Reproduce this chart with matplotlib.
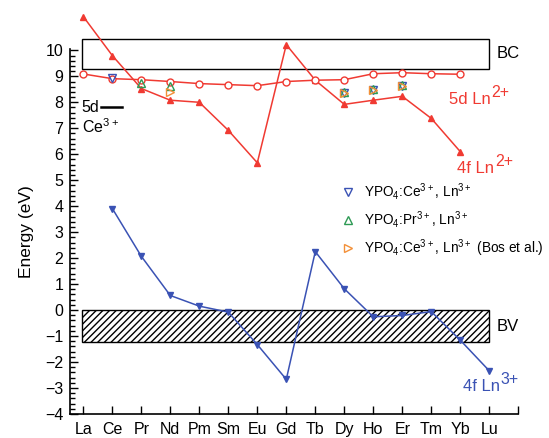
import matplotlib
matplotlib.use("Agg")
import matplotlib.pyplot as plt
from matplotlib.patches import Rectangle
from matplotlib.ticker import MultipleLocator

plt.rcParams['font.family'] = ['Liberation Sans', 'DejaVu Sans']
plt.rcParams['mathtext.fontset'] = 'custom'
plt.rcParams['mathtext.rm'] = 'Liberation Sans'
plt.rcParams['mathtext.default'] = 'regular'

elements = ['La', 'Ce', 'Pr', 'Nd', 'Pm', 'Sm', 'Eu', 'Gd', 'Tb', 'Dy', 'Ho', 'Er', 'Tm', 'Yb', 'Lu']

# 4f Ln2+ (La..Yb)
f4_ln2 = [11.3, 9.8, 8.53, 8.08, 8.0, 6.92, 5.67, 10.22, 8.85, 7.92, 8.08, 8.23, 7.38, 6.1]
# 5d Ln2+ (La..Yb)
d5_ln2 = [9.09, 8.91, 8.87, 8.8, 8.72, 8.68, 8.64, 8.8, 8.85, 8.87, 9.1, 9.14, 9.1, 9.08]
# 4f Ln3+ (Ce..Lu)
f4_ln3 = [3.91, 2.07, 0.56, 0.15, -0.08, -1.33, -2.67, 2.25, 0.82, -0.26, -0.21, -0.06, -1.16, -2.34]

# experimental points
ce_x = ['Ce', 'Dy', 'Ho', 'Er']
ce_y = [8.95, 8.36, 8.49, 8.64]
pr_x = ['Pr', 'Nd', 'Dy', 'Ho', 'Er']
pr_y = [8.76, 8.61, 8.39, 8.52, 8.66]
bos_x = ['Nd', 'Dy', 'Ho', 'Er']
bos_y = [8.41, 8.34, 8.47, 8.62]

bc_band = (9.3, 10.45)
bv_band = (-1.22, 0.0)

red = '#f03a32'
blue = '#3a52b4'
green = '#2e9a55'
orange = '#f39038'

idx = {e: i for i, e in enumerate(elements)}

fig = plt.figure(figsize=(5.49, 4.38), dpi=100)
ax = fig.add_axes([0.128, 0.055, 0.816, 0.833])

ax.add_patch(Rectangle((-0.05, bc_band[0]), 14.05, bc_band[1] - bc_band[0],
                       fill=False, edgecolor='black', lw=1.0, clip_on=False))
ax.add_patch(Rectangle((-0.05, bv_band[0]), 14.05, bv_band[1] - bv_band[0],
                       fill=False, edgecolor='black', hatch='/////', lw=1.0))

ax.plot(range(len(f4_ln2)), f4_ln2, color=red, marker='^', ms=5, lw=1.1, clip_on=False, zorder=3)
ax.plot(range(len(d5_ln2)), d5_ln2, color=red, marker='o', mfc='white', ms=5, lw=1.1, zorder=3)
ax.plot(range(1, 1 + len(f4_ln3)), f4_ln3, color=blue, marker='v', ms=5, lw=1.1, zorder=3)

ax.plot([idx[e] for e in ce_x], ce_y, ls='none', marker='v', mfc='none', mec=blue, ms=6,
        mew=1.0, zorder=4, label='YPO$_4$:Ce$^{3+}$, Ln$^{3+}$')
ax.plot([idx[e] for e in pr_x], pr_y, ls='none', marker='^', mfc='none', mec=green, ms=6,
        mew=1.0, zorder=4, label='YPO$_4$:Pr$^{3+}$, Ln$^{3+}$')
ax.plot([idx[e] for e in bos_x], bos_y, ls='none', marker='>', mfc='none', mec=orange, ms=6,
        mew=1.0, zorder=5, label='YPO$_4$:Ce$^{3+}$, Ln$^{3+}$ (Bos et al.)')

ax.legend(loc='upper left', bbox_to_anchor=(0.575, 0.672), frameon=False, fontsize=9.8,
          handletextpad=0.55, labelspacing=0.52, handlelength=1.2)


def label_ion(x, y, base, charge, color):
    t = ax.text(x, y, base, fontsize=12, color=color, va='center', ha='left')
    ax.annotate(charge, xy=(1, 0.45), xycoords=t, xytext=(0.5, 0), textcoords='offset points',
                fontsize=11.5, color=color, va='bottom', ha='left')


ax.text(14.25, 9.87, 'BC', fontsize=12, va='center', ha='left')
ax.text(14.25, -0.62, 'BV', fontsize=12, va='center', ha='left')
label_ion(12.6, 8.1, '5d Ln', '2+', red)
label_ion(12.9, 5.45, '4f Ln', '2+', red)
label_ion(13.1, -2.95, '4f Ln', '3+', blue)
ax.text(-0.05, 7.8, '5d', fontsize=11.5, va='center', ha='left')
ax.plot([0.62, 1.35], [7.8, 7.8], color='black', lw=1.8)
ax.text(-0.05, 7.05, 'Ce$^{3+}$', fontsize=11.5, va='center', ha='left')

ax.set_xlim(-0.45, 15)
ax.set_ylim(-4, 10.05)
ax.set_xticks(range(16))
ax.set_xticklabels(elements + [''])
ax.yaxis.set_major_locator(MultipleLocator(1))
ax.yaxis.set_minor_locator(MultipleLocator(0.2))
ax.tick_params(axis='both', direction='in', labelsize=11.5, width=1.0)
ax.tick_params(axis='both', which='major', length=6)
ax.tick_params(axis='y', which='minor', direction='in', length=3.5, width=1.0)
ax.tick_params(axis='x', pad=6)
ax.tick_params(axis='y', pad=5)
ax.spines['top'].set_visible(False)
ax.spines['right'].set_visible(False)
ax.spines['left'].set_linewidth(1.2)
ax.spines['bottom'].set_linewidth(1.2)
ax.set_ylabel('Energy (eV)', fontsize=12.5, labelpad=8)

fig.savefig('out.png', dpi=100)
